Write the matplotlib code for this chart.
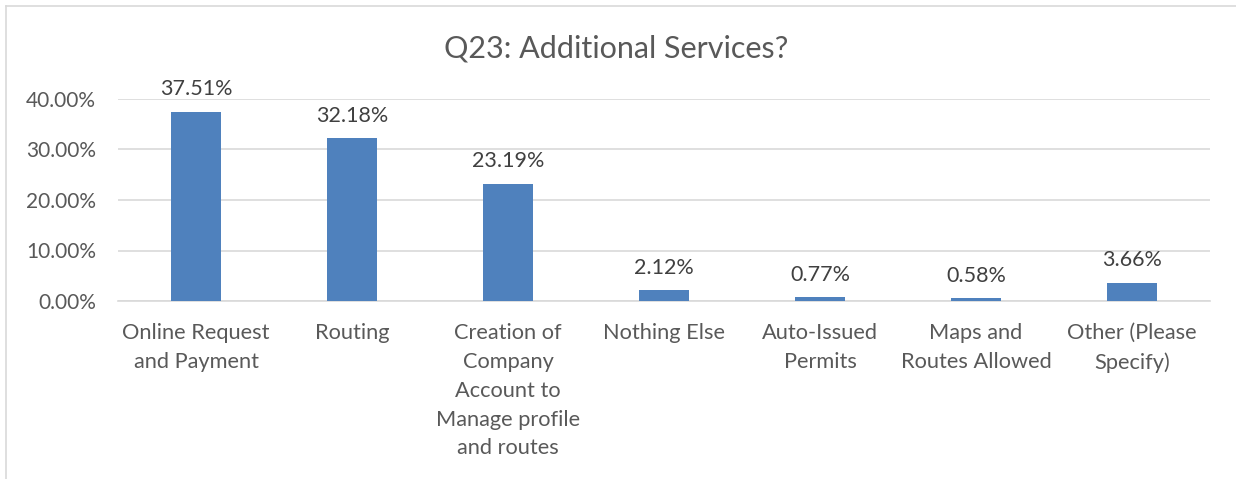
import matplotlib
matplotlib.use("Agg")
import matplotlib.pyplot as plt
from matplotlib.lines import Line2D
from matplotlib.ticker import FuncFormatter

categories = ["Online Request\nand Payment", "Routing",
              "Creation of\nCompany\nAccount to\nManage profile\nand routes",
              "Nothing Else", "Auto-Issued\nPermits", "Maps and\nRoutes Allowed",
              "Other (Please\nSpecify)"]
values = [37.51, 32.18, 23.19, 2.12, 0.77, 0.58, 3.66]
yticks = [0, 10, 20, 30, 40]
title = "Q23: Additional Services?"

plt.rcParams['font.family'] = ['Lato', 'DejaVu Sans']

W, H = 1236, 479
fig = plt.figure(figsize=(W / 100, H / 100), dpi=100)
ax = fig.add_axes([118 / W, 1 - 301 / H, (1210 - 118) / W, (301 - 99) / H])

bar_color = "#4F81BD"
text_color = "#595959"
grid_color = "#D9D9D9"

x = list(range(len(categories)))
bars = ax.bar(x, values, width=0.32, color=bar_color, zorder=3)
for xi, v in zip(x, values):
    ax.annotate(f"{v:.2f}%", (xi, v), xytext=(0, 9), textcoords="offset points",
                ha="center", va="bottom", fontsize=15.5, color="#404040")

ax.set_xlim(-0.5, len(categories) - 0.5)
ax.set_ylim(0, 40)
ax.set_yticks(yticks)
ax.yaxis.set_major_formatter(FuncFormatter(lambda v, p: f"{v:.2f}%"))
ax.set_xticks(x)
ax.set_xticklabels(categories, fontsize=15.7, color=text_color, linespacing=1.55, va="top")
ax.tick_params(axis="y", labelsize=15, labelcolor=text_color, length=0, pad=16)
ax.tick_params(axis="x", length=0, pad=16)
ax.grid(axis="y", color=grid_color, linewidth=1.2, zorder=0)
for s in ["top", "right", "left"]:
    ax.spines[s].set_visible(False)
ax.spines["bottom"].set_color(grid_color)
ax.spines["bottom"].set_linewidth(1.2)

fig.text(616 / W, 1 - 48 / H, title, ha="center", va="center", fontsize=22, color=text_color)

# chart border (top and left visible)
fig.add_artist(Line2D([6 / W, 1.0], [1 - 6 / H, 1 - 6 / H], color=grid_color, linewidth=1.2))
fig.add_artist(Line2D([6 / W, 6 / W], [0, 1 - 6 / H], color=grid_color, linewidth=1.2))

fig.savefig("out.png", dpi=100)
